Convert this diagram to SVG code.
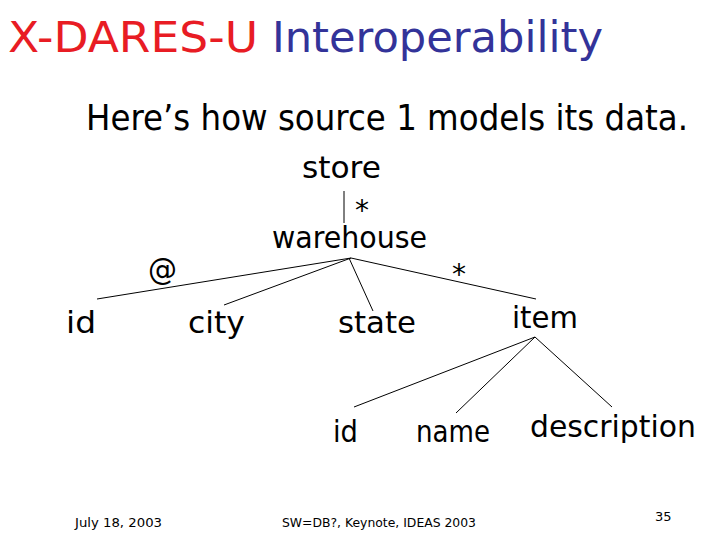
<svg xmlns="http://www.w3.org/2000/svg" width="720" height="540" viewBox="0 0 720 540">
<style>
text{font-family:"DejaVu Sans","Liberation Sans",sans-serif;fill:#000}
.t{font-size:42px}
.sub{font-size:36px}
.n{font-size:30px}
.s{font-size:28px}
.f{font-size:13px}
.edge{stroke:#000;stroke-width:1;fill:none}
</style>
<rect width="720" height="540" fill="#fff"/>
<g id="title">
<text class="t" x="8" y="52" style="fill:#e81c24" textLength="250" lengthAdjust="spacingAndGlyphs">X-DARES-U</text>
<text class="t" x="272" y="52" style="fill:#333399" textLength="331" lengthAdjust="spacingAndGlyphs">Interoperability</text>
</g>
<g id="subtitle"><text class="sub" x="86" y="130" textLength="602" lengthAdjust="spacingAndGlyphs">Here’s how source 1 models its data.</text></g>
<g id="connectors">
<line class="edge" x1="344" y1="191" x2="344" y2="223"/>
<line class="edge" x1="351" y1="258" x2="97" y2="299"/>
<line class="edge" x1="351" y1="258" x2="224" y2="305"/>
<line class="edge" x1="349" y1="258" x2="373" y2="311"/>
<line class="edge" x1="351" y1="258" x2="536" y2="299"/>
<line class="edge" x1="535" y1="337" x2="354" y2="407"/>
<line class="edge" x1="535" y1="337" x2="456" y2="413"/>
<line class="edge" x1="535" y1="337" x2="612" y2="407"/>
<text class="s" x="355" y="220">*</text>
<text class="s" x="452" y="284">*</text>
<text class="n" x="148" y="280" textLength="29" lengthAdjust="spacingAndGlyphs">@</text>
</g>
<g id="store"><text class="n" x="302" y="178" textLength="79" lengthAdjust="spacingAndGlyphs">store</text></g>
<g id="warehouse"><text class="n" x="272" y="248" textLength="155" lengthAdjust="spacingAndGlyphs">warehouse</text></g>
<g id="id1"><text class="n" x="66" y="333" textLength="30" lengthAdjust="spacingAndGlyphs">id</text></g>
<g id="city"><text class="n" x="188" y="333" textLength="57" lengthAdjust="spacingAndGlyphs">city</text></g>
<g id="state"><text class="n" x="338" y="333" textLength="78" lengthAdjust="spacingAndGlyphs">state</text></g>
<g id="item"><text class="n" x="512" y="328" textLength="66" lengthAdjust="spacingAndGlyphs">item</text></g>
<g id="id2"><text class="n" x="333" y="442" textLength="25" lengthAdjust="spacingAndGlyphs">id</text></g>
<g id="name"><text class="n" x="416" y="442" textLength="74" lengthAdjust="spacingAndGlyphs">name</text></g>
<g id="description"><text class="n" x="530" y="437" textLength="166" lengthAdjust="spacingAndGlyphs">description</text></g>
<g id="footer">
<text class="f" x="75" y="527" textLength="87" lengthAdjust="spacingAndGlyphs">July 18, 2003</text>
<text class="f" x="282" y="527" textLength="194" lengthAdjust="spacingAndGlyphs">SW=DB?, Keynote, IDEAS 2003</text>
<text class="f" x="655" y="521">35</text>
</g>
</svg>
